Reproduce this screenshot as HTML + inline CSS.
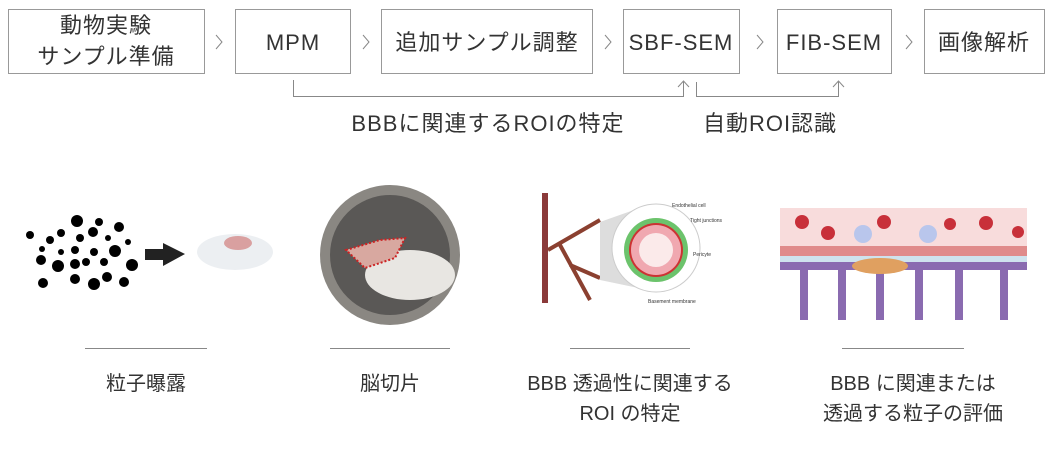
<!DOCTYPE html>
<html><head><meta charset="utf-8"><style>
html,body{margin:0;padding:0;background:#fff;}
svg{display:block;}
text{font-family:"Liberation Sans","Noto Sans CJK JP",sans-serif;fill:#333;}
</style></head><body>
<svg width="1052" height="455" viewBox="0 0 1052 455" xmlns="http://www.w3.org/2000/svg">
<g fill="#fff" stroke="#999" stroke-width="1">
<rect x="8.5" y="9.5" width="196" height="64"/>
<rect x="235.5" y="9.5" width="115" height="64"/>
<rect x="381.5" y="9.5" width="211" height="64"/>
<rect x="623.5" y="9.5" width="116" height="64"/>
<rect x="777.5" y="9.5" width="114" height="64"/>
<rect x="924.5" y="9.5" width="120" height="64"/>
</g>
<g fill="none" stroke="#888" stroke-width="1">
<polyline points="216,35 222,42 216,49"/>
<polyline points="363,35 369,42 363,49"/>
<polyline points="605,35 611,42 605,49"/>
<polyline points="757,35 763,42 757,49"/>
<polyline points="906,35 912,42 906,49"/>
<polyline points="293.5,80 293.5,96.5 683.5,96.5 683.5,82"/>
<polyline points="678,87 683.5,81 689,87"/>
<polyline points="696.5,82 696.5,96.5 838.5,96.5 838.5,82"/>
<polyline points="833,87 838.5,81 844,87"/>
</g>
<g font-size="22" text-anchor="middle" letter-spacing="1">
<text x="106" y="33">動物実験</text>
<text x="106" y="64">サンプル準備</text>
<text x="293" y="50">MPM</text>
<text x="487" y="50">追加サンプル調整</text>
<text x="681" y="50">SBF-SEM</text>
<text x="834" y="50">FIB-SEM</text>
<text x="984" y="50">画像解析</text>
<text x="488" y="131">BBBに関連するROIの特定</text>
<text x="770" y="131">自動ROI認識</text>
</g>
<g fill="#000">
<circle cx="30" cy="235" r="4"/><circle cx="50" cy="240" r="4"/><circle cx="61" cy="233" r="4"/><circle cx="77" cy="221" r="6"/><circle cx="99" cy="222" r="4"/><circle cx="119" cy="227" r="5"/><circle cx="93" cy="232" r="5"/><circle cx="80" cy="238" r="4"/><circle cx="108" cy="238" r="3"/><circle cx="128" cy="242" r="3"/>
<circle cx="42" cy="249" r="3"/><circle cx="61" cy="252" r="3"/><circle cx="75" cy="250" r="4"/><circle cx="94" cy="252" r="4"/><circle cx="115" cy="251" r="6"/>
<circle cx="41" cy="260" r="5"/><circle cx="58" cy="266" r="6"/><circle cx="75" cy="264" r="5"/><circle cx="86" cy="262" r="4"/><circle cx="104" cy="262" r="4"/><circle cx="132" cy="265" r="6"/>
<circle cx="43" cy="283" r="5"/><circle cx="75" cy="279" r="5"/><circle cx="94" cy="284" r="6"/><circle cx="107" cy="277" r="5"/><circle cx="124" cy="282" r="5"/>
</g>
<rect x="145" y="249" width="20" height="11" fill="#222"/><polygon points="163,243 185,254 163,266" fill="#222"/>
<ellipse cx="235" cy="252" rx="38" ry="18" fill="#eceff2"/>
<ellipse cx="238" cy="243" rx="14" ry="7" fill="#d9a0a0"/>
<circle cx="390" cy="255" r="70" fill="#8a8782"/>
<circle cx="390" cy="255" r="60" fill="#5a5856"/>
<ellipse cx="410" cy="275" rx="45" ry="25" fill="#e8e6e2"/>
<path d="M346 250 L380 240 L405 238 L395 258 L365 268 Z" fill="#d8a8a0" stroke="#c22" stroke-width="2" stroke-dasharray="2 2"/>
<rect x="542" y="193" width="6" height="110" fill="#8b3a3a"/>
<path d="M548 250 L600 220 M560 245 L590 300 M570 265 L600 278" stroke="#8b4030" stroke-width="4" fill="none"/>
<polygon points="600,222 648,205 648,290 600,280" fill="#ddd"/>
<circle cx="656" cy="248" r="44" fill="#fff" stroke="#ccc"/>
<circle cx="656" cy="250" r="32" fill="#6cc36c"/>
<circle cx="656" cy="250" r="27" fill="#c33" /><circle cx="656" cy="250" r="25" fill="#f0a8b0"/><circle cx="656" cy="250" r="17" fill="#fbeaea"/>
<g font-size="5" fill="#555"><text x="672" y="207">Endothelial cell</text><text x="690" y="222">Tight junctions</text><text x="693" y="256">Pericyte</text><text x="648" y="303">Basement membrane</text></g>
<rect x="780" y="208" width="247" height="40" fill="#f8dcdc"/>
<rect x="780" y="246" width="247" height="10" fill="#e08b8b"/>
<rect x="780" y="256" width="247" height="6" fill="#cfe3ee"/>
<g fill="#8a6bb0"><rect x="780" y="262" width="247" height="8"/><rect x="800" y="265" width="8" height="55"/><rect x="838" y="265" width="8" height="55"/><rect x="876" y="265" width="8" height="55"/><rect x="915" y="265" width="8" height="55"/><rect x="955" y="265" width="8" height="55"/><rect x="1000" y="265" width="8" height="55"/></g>
<ellipse cx="880" cy="266" rx="28" ry="8" fill="#e0a060"/>
<g fill="#c8303a"><circle cx="802" cy="222" r="7"/><circle cx="828" cy="233" r="7"/><circle cx="884" cy="222" r="7"/><circle cx="950" cy="224" r="6"/><circle cx="986" cy="223" r="7"/><circle cx="1018" cy="232" r="6"/></g>
<g fill="#b9c6ec"><circle cx="863" cy="234" r="9"/><circle cx="928" cy="234" r="9"/></g>
<g fill="none" stroke="#888" stroke-width="1">
<line x1="85" y1="348.5" x2="207" y2="348.5"/><line x1="330" y1="348.5" x2="450" y2="348.5"/><line x1="570" y1="348.5" x2="690" y2="348.5"/><line x1="842" y1="348.5" x2="964" y2="348.5"/>
</g>
<g font-size="20" text-anchor="middle">
<text x="146" y="390">粒子曝露</text>
<text x="390" y="390">脳切片</text>
<text x="630" y="390">BBB 透過性に関連する</text>
<text x="630" y="420">ROI の特定</text>
<text x="913" y="390">BBB に関連または</text>
<text x="913" y="420">透過する粒子の評価</text>
</g>
</svg>
</body></html>
